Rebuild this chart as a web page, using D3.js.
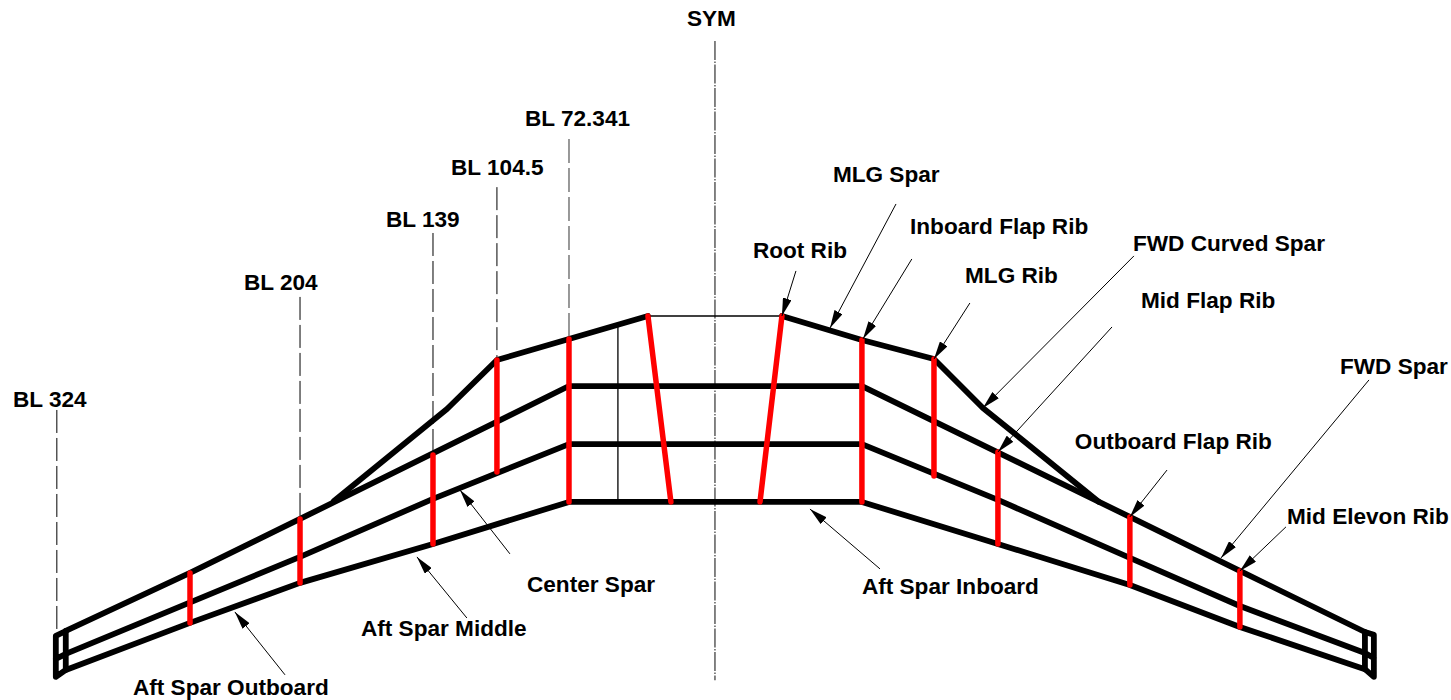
<!DOCTYPE html>
<html>
<head>
<meta charset="UTF-8">
<title>Wing spars and ribs</title>
<style>
  body { margin: 0; background: #fff; }
  svg { display: block; }
  text { font-family: "Liberation Sans", Arial, sans-serif; font-weight: bold; font-size: 22.6px; fill: #000; }
</style>
</head>
<body>
<script src="https://d3js.org/d3.v7.min.js"></script>
<script>
// everything is [butt line, station]
var fwdSpar = [[-319.8,155.2],[-258.6,126.6],[-204.4,100],[-71.9,34.5],[72.4,34.5],[204.4,99],[258.6,125.6],[320.2,155.7]];
var centerSpar = [[-319.8,166.5],[-204.4,118.7],[-138.9,90.1],[-71.9,63.1],[72.4,63.1],[139.4,90.6],[204.4,119.2],[258.6,142.9],[320.2,166]];
var aftSpar = [[-319.8,174.4],[-258.6,151.2],[-204.4,131.5],[-138.9,112.3],[-71.9,91.6],[72.4,91.6],[139.4,112.3],[204.4,132.5],[258.6,153.2],[320.2,174]];
var curvedSparLeft = [[-187.7,91.1],[-132,45.8],[-107.4,21.7],[-71.9,11.3],[-33,0]];
var curvedSparRight = [[189.2,91.6],[132,45.3],[107.9,21.2],[72.4,11.8],[33,0]];
var tipLeft = [[-319.8,155.2],[-324.7,157.6],[-324.7,177.8],[-319.8,174.4],[-319.8,155.2],[-319.8,166.5],[-324.7,169]];
var tipRight = [[320.2,155.7],[324.6,157.1],[324.6,177.8],[320.2,174],[320.2,155.7],[320.2,166],[324.6,168.5]];

var ribs = [
  [[-258.6,126.6],[-258.6,151.2]],
  [[-204.4,100],[-204.4,131.5]],
  [[-138.9,68.5],[-138.9,112.3]],
  [[-107.4,21.7],[-107.4,76.8]],
  [[-71.9,11.3],[-71.9,91.6]],
  [[-33,0],[-21.7,91.6]],
  [[33,0],[22.2,91.6]],
  [[72.4,11.8],[72.4,91.6]],
  [[107.9,21.2],[107.9,78.8]],
  [[139.4,67],[139.4,112.3]],
  [[204.4,99],[204.4,132.5]],
  [[258.6,125.6],[258.6,153.2]]
];

var thinLines = [
  [[-33,0],[33,0]],
  [[-47.8,4.5],[-47.8,91.6]]
];

var blLines = [
  [[-324.2,46.3],[-324.2,156.7]],
  [[-204.4,-9.4],[-204.4,100]],
  [[-138.9,-40.9],[-138.9,68.5]],
  [[-107.4,-63.5],[-107.4,21.7]]
];
var blLineGrey = [[-71.9,-87.2],[-71.9,11.3]];
var symLine = [[0,-135.5],[0,179.5]];

var leaders = [
  [[39.9,-22.2],[33,0]],
  [[89.2,-55.2],[56.7,5.9]],
  [[97,-28.1],[72.9,11.3]],
  [[125.6,-6.4],[107.9,21.2]],
  [[206.4,-29.6],[132,45.3]],
  [[195.6,5.4],[139.4,67]],
  [[222.7,75.9],[204.4,99]],
  [[322.2,31.5],[249.3,119.2]],
  [[281.3,103.9],[258.6,125.6]],
  [[81.3,124.6],[46.8,95.1]],
  [[-101,117.2],[-125.6,85.7]],
  [[-122.2,148.8],[-146.8,118.7]],
  [[-211.8,176.8],[-236.5,145.8]]
];

var labels = ["SYM","BL 72.341","BL 104.5","BL 139","BL 204","BL 324","Root Rib","MLG Spar","Inboard Flap Rib","MLG Rib","FWD Curved Spar","Mid Flap Rib","FWD Spar","Outboard Flap Rib","Mid Elevon Rib","Aft Spar Inboard","Center Spar","Aft Spar Middle","Aft Spar Outboard"];
var labelBL = [-13.8,-93.6,-130,-162.1,-232,-345.8,18.7,58.1,96.1,123.2,205.9,209.9,307.9,177.3,281.8,72.4,-92.6,-174.4,-286.7];
var labelSta = [-142.9,-93.6,-69.5,-43.8,-12.8,44.8,-28.6,-66,-40.4,-16.3,-32,-3.9,28.6,65.5,102.5,136.9,136,157.6,186.7];

var width = 1451, height = 700;
var svg = d3.select("body").append("svg").attr("width", width).attr("height", height);

var x = d3.scaleLinear().domain([-352.2, 362.6]).range([0, width]);
var y = d3.scaleLinear().domain([-155.7, 189.2]).range([0, height]);
var line = d3.line().x(d => x(d[0])).y(d => y(d[1]));

svg.append("defs").append("marker")
  .attr("id", "arrow")
  .attr("markerUnits", "userSpaceOnUse")
  .attr("viewBox", "0 0 18 9")
  .attr("refX", 18).attr("refY", 4.5)
  .attr("markerWidth", 18).attr("markerHeight", 9)
  .attr("orient", "auto")
  .append("path").attr("d", "M0,0L18,4.5L0,9Z").attr("fill", "#000");

// centre lines
svg.append("g").selectAll("path").data(blLines).enter().append("path")
  .attr("d", line).attr("fill", "none")
  .attr("stroke", "#000").attr("stroke-width", 1)
  .attr("stroke-dasharray", "23,5");
svg.append("path").attr("d", line(blLineGrey)).attr("fill", "none")
  .attr("stroke", "#777").attr("stroke-width", 1.5)
  .attr("stroke-dasharray", "24,5");
svg.append("path").attr("d", line(symLine)).attr("fill", "none")
  .attr("stroke", "#777").attr("stroke-width", 1.8)
  .attr("stroke-dasharray", "19,1.5,1.5,1.5");

svg.append("g").selectAll("path").data(thinLines).enter().append("path")
  .attr("d", line).attr("fill", "none")
  .attr("stroke", "#000").attr("stroke-width", 1.3);

// spars
var spars = [fwdSpar, centerSpar, aftSpar, curvedSparLeft, curvedSparRight, tipLeft, tipRight];
svg.append("g").selectAll("path").data(spars).enter().append("path")
  .attr("d", line).attr("fill", "none")
  .attr("stroke", "#000").attr("stroke-width", 5.8)
  .attr("stroke-linejoin", "round").attr("stroke-linecap", "round");

// ribs go on top of the spars
svg.append("g").selectAll("path").data(ribs).enter().append("path")
  .attr("d", line).attr("fill", "none")
  .attr("stroke", "#f00").attr("stroke-width", 5.5)
  .attr("stroke-linecap", "round");

// leaders
svg.append("g").selectAll("path").data(leaders).enter().append("path")
  .attr("d", line).attr("fill", "none")
  .attr("stroke", "#000").attr("stroke-width", 1)
  .attr("marker-end", "url(#arrow)");

svg.append("g").selectAll("text").data(labels).enter().append("text")
  .attr("x", (d, i) => x(labelBL[i]))
  .attr("y", (d, i) => y(labelSta[i]))
  .text(d => d);
</script>
</body>
</html>
